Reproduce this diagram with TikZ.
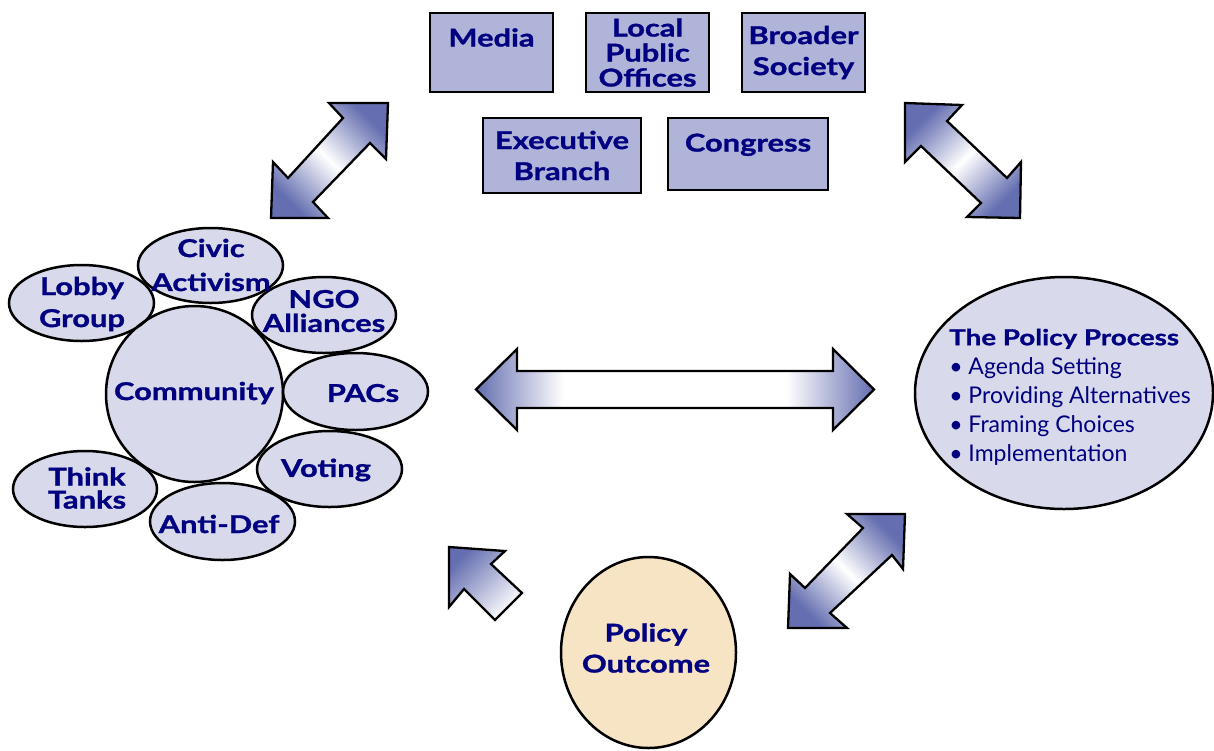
\documentclass[tikz,border=0pt]{standalone}
\usepackage{fontspec}
\setmainfont{Lato}
\newfontfamily\heavy{Lato}[FakeStretch=1.26,FakeBold=1.2]
\usepackage{tikz}
\definecolor{navytext}{RGB}{0,0,128}
\definecolor{boxfill}{RGB}{176,180,216}
\definecolor{bubblefill}{RGB}{216,218,236}
\definecolor{outcomefill}{RGB}{246,228,196}
\definecolor{arrowblue}{RGB}{100,110,176}
\pgfdeclarehorizontalshading{longarrow}{100bp}{color(0bp)=(arrowblue); color(25bp)=(arrowblue); color(36bp)=(white); color(64bp)=(white); color(75bp)=(arrowblue); color(100bp)=(arrowblue)}

\begin{document}
\begin{tikzpicture}[x=1pt,y=-1pt,
  office/.style={draw, line width=2.8pt, fill=boxfill, inner sep=0pt, text=navytext, font=\heavy\bfseries\fontsize{24.5}{31}\selectfont, align=center},
  grouplbl/.style={text=navytext, font=\heavy\bfseries\fontsize{24.5}{31}\selectfont, align=center, inner sep=0pt},
  bigarrow/.style={draw, line width=2.3pt, line join=miter},
  twoway/.style={bigarrow, top color=arrowblue, bottom color=arrowblue, middle color=white, shading angle=#1}]
\useasboundingbox (0,0) rectangle (1214,750);
%
\node[office, minimum width=123pt, minimum height=79pt, text height=33.5pt, text depth=45.5pt] (media) at (491.5,52.5) {Media};
\node[office, minimum width=123pt, minimum height=79pt] (local) at (647.5,52.5) {Local\\[-6pt]Public\\[-6pt]Offices};
\node[office, minimum width=123pt, minimum height=79pt] (society) at (803.5,52.5) {Broader\\Society};
\node[office, minimum width=158pt, minimum height=75pt] (exec) at (562,155.5) {Executive\\Branch};
\node[office, minimum width=160pt, minimum height=72pt, text height=33.5pt, text depth=38.5pt] (congress) at (748,154) {Congress};
%
\def\bubbles{194.5/394/88.5/88, 81.5/303/72.5/38, 210.5/265.5/72.5/37.5, 324/315/72/38, 355.5/391.5/72.5/38.5, 329.5/469/72.5/38, 85/489/72/38, 222.5/521.5/72.5/38.5}
\foreach \x/\y/\rx/\ry in \bubbles
  \fill[bubblefill] (\x,\y) ellipse [x radius=\rx pt, y radius=\ry pt];
\foreach \x/\y/\rx/\ry in \bubbles
  \draw[line width=2.5pt] (\x,\y) ellipse [x radius=\rx pt, y radius=\ry pt];
%
\node[grouplbl] (comm) at (194,393) {Community};
\node[grouplbl] (lobby) at (82,304) {Lobby\\[1pt]Group};
\node[grouplbl] (civic) at (211,265) {Civic\\[3pt]Activism};
\node[grouplbl] (ngo) at (324,311) {NGO\\[-7pt]Alliances};
\node[grouplbl] (pacs) at (363,393) {PACs};
\node[grouplbl] (voting) at (326,470) {Voting};
\node[grouplbl] (think) at (87,488) {Think\\[-8pt]Tanks};
\node[grouplbl] (antidef) at (219,524) {Anti-Def};
%
\filldraw[fill=bubblefill, line width=2.5pt] (1064,393) ellipse [x radius=149pt, y radius=116pt];
\node[text=navytext, align=left, inner sep=0pt, font=\fontsize{23}{29}\selectfont] (process) at (1070,397)
  {{\heavy\bfseries\fontsize{22}{29}\selectfont The Policy Process}\\%
   • Agenda Setting\\• Providing Alternatives\\• Framing Choices\\• Implementation};
%
\filldraw[fill=outcomefill, line width=2.5pt] (648.5,652.5) ellipse [x radius=87.5pt, y radius=95.5pt];
\node[grouplbl] (outcome) at (646,648) {Policy\\Outcome};
%
\draw[twoway=-45] (271,218) -- (273,162) -- (288,178) -- (343,118) -- (329,103) -- (388,103)
  -- (386,159) -- (370,143) -- (313,202) -- (328,218) -- cycle;
\draw[twoway=45] (905,103) -- (962,105) -- (947,121) -- (1007,178) -- (1021,162) -- (1020,218)
  -- (967,217) -- (981,203) -- (921,146) -- (905,162) -- cycle;
\draw[twoway=-45] (905,514) -- (903,569) -- (892,555) -- (830,613) -- (847,628) -- (788,628)
  -- (790,574) -- (805,588) -- (863,528) -- (847,514) -- cycle;
\draw[bigarrow, top color=arrowblue, bottom color=white, shading angle=45]
  (449,547) -- (505,551) -- (491,564) -- (522,593) -- (495,620) -- (464,589) -- (449,607) -- cycle;
\draw[bigarrow, shading=longarrow] (476,389.5) -- (517,349) -- (517,371) -- (833,371) -- (833,349)
  -- (874,389.5) -- (833,430) -- (833,408) -- (517,408) -- (517,430) -- cycle;
\end{tikzpicture}
\end{document}
